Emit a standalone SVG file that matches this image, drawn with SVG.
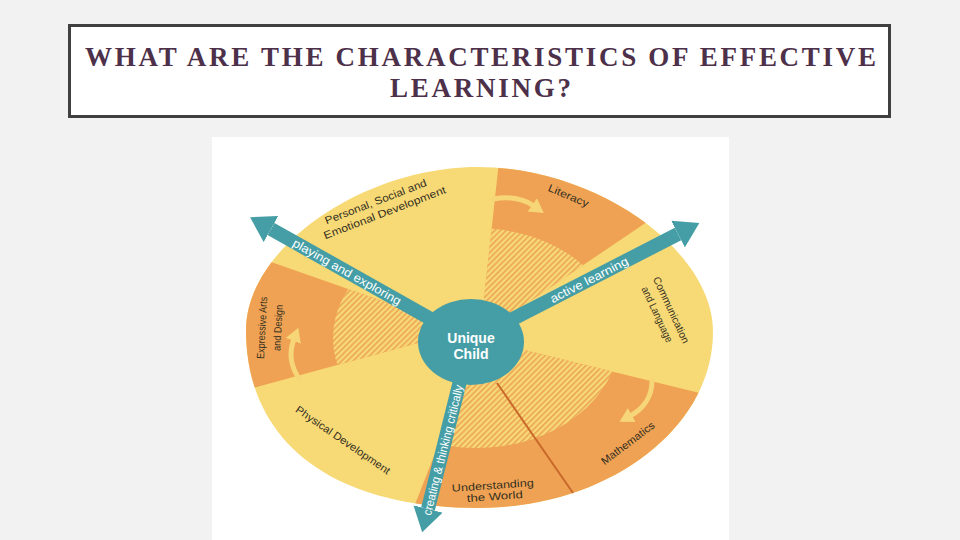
<svg xmlns="http://www.w3.org/2000/svg" width="960" height="540" viewBox="0 0 960 540">
  <defs>
    <style>
      .title { font-family: "Liberation Serif", "Times New Roman", serif; font-size: 27px; font-weight: bold; fill: #4d3049; }
      .lbl { font-family: "Liberation Sans", Arial, sans-serif; font-size: 10.5px; fill: #35301f; text-anchor: middle; }
      .arm { stroke: #459ea5; stroke-width: 14; fill: none; marker-end: url(#head); }
      .armtxt { font-family: "Liberation Sans", Arial, sans-serif; font-size: 12px; fill: #ffffff; text-anchor: middle; }
      .curl { stroke: #f6d676; stroke-width: 5; fill: none; stroke-linecap: round; }
      .yellow { fill: #f7da76; }
      .orange { fill: #efa253; }
      .hatch { fill: url(#hatch); }
    </style>
    <pattern id="hatch" patternUnits="userSpaceOnUse" width="4" height="4" patternTransform="rotate(45)">
      <rect width="4" height="4" fill="#f7da76"/>
      <rect width="1.6" height="4" fill="#eca457"/>
    </pattern>
    <clipPath id="outline">
      <path d="M478,167 C595.5,167 713,249.5 713,332 C713,428.8 607.3,508 478,508 C331.8,508 246,442.1 246,330 C246,248.5 362,167 478,167 Z"/>
    </clipPath>
    <clipPath id="inner">
      <ellipse cx="476" cy="338" rx="143" ry="110"/>
    </clipPath>
    <marker id="head" markerUnits="userSpaceOnUse" markerWidth="24" markerHeight="30" refX="0" refY="15" orient="auto">
      <path d="M0,0 L24,15 L0,30 Z" fill="#459ea5"/>
    </marker>
    <marker id="curlhead" markerUnits="userSpaceOnUse" markerWidth="14" markerHeight="16" refX="2" refY="8" orient="auto">
      <path d="M0,0 L14,8 L0,16 Z" fill="#f6d676"/>
    </marker>
  </defs>

  <rect width="960" height="540" fill="#f2f2f2"/>

  <g id="title">
    <rect x="69.5" y="25.5" width="820" height="91" fill="#ffffff" stroke="#404040" stroke-width="3"/>
    <text class="title" x="85" y="66" textLength="791" lengthAdjust="spacing">WHAT ARE THE CHARACTERISTICS OF EFFECTIVE</text>
    <text class="title" x="390" y="97" textLength="181" lengthAdjust="spacing">LEARNING?</text>
  </g>

  <rect id="panel" x="212" y="137" width="517" height="403" fill="#ffffff"/>

  <g id="wheel">
    <g clip-path="url(#outline)">
      <rect class="yellow" x="230" y="150" width="500" height="380"/>
      <polygon class="orange" points="480,335 501,143 720,143 720,186 700,186"/>
      <polygon class="orange" points="480,339 740,403 740,540 401,540"/>
      <polygon class="orange" points="465,330 230,247.5 230,394.4"/>
    </g>
    <g clip-path="url(#inner)">
      <polygon class="hatch" points="480,335 501,143 720,143 720,186 700,186"/>
      <polygon class="hatch" points="480,339 740,403 740,540 401,540"/>
      <polygon class="hatch" points="465,330 230,247.5 230,394.4"/>
    </g>
    <line x1="497" y1="383" x2="573" y2="493" stroke="#c8682a" stroke-width="2"/>
  </g>

  <g id="curls">
    <path class="curl" d="M493,199 C510,196 524,199 534,206" marker-end="url(#curlhead)"/>
    <path class="curl" d="M300,380 C290,366 289,352 294,339" marker-end="url(#curlhead)"/>
    <path class="curl" d="M652,381 C652,397 643,409 630,416" marker-end="url(#curlhead)"/>
  </g>

  <g id="connectors">
    <line class="arm" x1="470" y1="341" x2="271" y2="229"/>
    <line class="arm" x1="470" y1="341" x2="678" y2="234"/>
    <line class="arm" x1="470" y1="341" x2="428" y2="509"/>
  </g>

  <g id="unique-child">
    <ellipse cx="471" cy="342" rx="53" ry="43" fill="#459ea5"/>
    <text x="471" y="343" font-family="Liberation Sans, Arial, sans-serif" font-size="14" font-weight="bold" fill="#ffffff" text-anchor="middle">Unique</text>
    <text x="471" y="359" font-family="Liberation Sans, Arial, sans-serif" font-size="14" font-weight="bold" fill="#ffffff" text-anchor="middle">Child</text>
  </g>

  <g id="arm-labels">
    <text class="armtxt" transform="translate(345,275.5) rotate(29.4)" textLength="122" lengthAdjust="spacingAndGlyphs">playing and exploring</text>
    <text class="armtxt" transform="translate(591,283.6) rotate(-27.2)" textLength="86" lengthAdjust="spacingAndGlyphs">active learning</text>
    <text class="armtxt" transform="translate(447,451) rotate(-76)" font-size="11" textLength="134" lengthAdjust="spacingAndGlyphs">creating &amp; thinking critically</text>
  </g>

  <g id="psed">
    <text class="lbl" transform="translate(377,205) rotate(-21)" textLength="108" lengthAdjust="spacingAndGlyphs">Personal, Social and</text>
    <text class="lbl" transform="translate(386,216) rotate(-21)" textLength="130" lengthAdjust="spacingAndGlyphs">Emotional Development</text>
  </g>
  <g id="literacy">
    <text class="lbl" transform="translate(567,199) rotate(23)" textLength="43" lengthAdjust="spacingAndGlyphs">Literacy</text>
  </g>
  <g id="communication">
    <text class="lbl" transform="translate(668,311.5) rotate(65)" textLength="72" lengthAdjust="spacingAndGlyphs">Communication</text>
    <text class="lbl" transform="translate(654,316) rotate(65)" textLength="60" lengthAdjust="spacingAndGlyphs">and Language</text>
  </g>
  <g id="mathematics">
    <text class="lbl" transform="translate(630,446) rotate(-37)" textLength="64" lengthAdjust="spacingAndGlyphs">Mathematics</text>
  </g>
  <g id="understanding">
    <text class="lbl" transform="translate(493,489) rotate(-4)" textLength="82" lengthAdjust="spacingAndGlyphs">Understanding</text>
    <text class="lbl" transform="translate(495,500) rotate(-4)" textLength="56" lengthAdjust="spacingAndGlyphs">the World</text>
  </g>
  <g id="physical">
    <text class="lbl" transform="translate(341,443) rotate(34.5)" textLength="112" lengthAdjust="spacingAndGlyphs">Physical Development</text>
  </g>
  <g id="expressive">
    <text class="lbl" transform="translate(265.5,328) rotate(-87)" textLength="62" lengthAdjust="spacingAndGlyphs">Expressive Arts</text>
    <text class="lbl" transform="translate(281.5,328) rotate(-87)" textLength="46" lengthAdjust="spacingAndGlyphs">and Design</text>
  </g>
</svg>
